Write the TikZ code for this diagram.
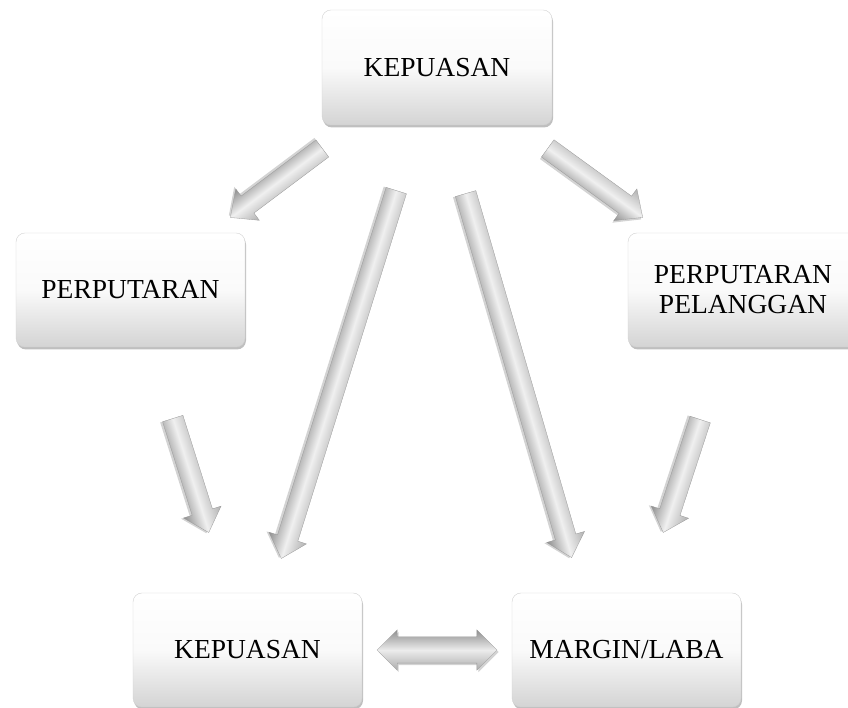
\documentclass[tikz,border=0pt]{standalone}
\usepackage{fontspec}
\setmainfont{Liberation Serif}
\usetikzlibrary{shapes.arrows,shadows,calc}
\newcommand\shinyarrow[2]{%
  \path let \p1=($(#2)-(#1)$), \p2=($(#1)!0.5!(#2)$) in
    \pgfextra{\pgfmathsetmacro\arang{atan2(\y1,\x1)}%
      \pgfmathsetmacro\arlen{veclen(\x1,\y1)}%
      \xdef\arang{\arang}\xdef\arlen{\arlen}\xdef\arx{\x2}\xdef\ary{\y2}};
  \begin{scope}[transform canvas={shift={(\arx,\ary)}, rotate=\arang}]
    \node[metal, minimum height=\arlen pt] at (0,0) {};
  \end{scope}}
\begin{document}
\begin{tikzpicture}[x=1pt,y=1pt,
  box/.style={rectangle, rounded corners=9pt, minimum width=229pt, minimum height=114pt,
    top color=white, bottom color=gray!34, middle color=white!96!gray,
    draw=gray!35, line width=0.4pt,
    drop shadow={opacity=0.5, shadow xshift=1pt, shadow yshift=-2.5pt},
    align=center, font=\fontsize{27.5}{30}\selectfont, inner sep=0pt},
  metal/.style={single arrow, single arrow head extend=9pt, minimum width=0pt,
    inner xsep=0pt, inner ysep=10.5pt, single arrow tip angle=85,
    top color=gray!62, bottom color=gray!88, middle color=gray!12,
    draw=gray!80, line width=0.3pt,
    drop shadow={opacity=0.35, shadow xshift=0pt, shadow yshift=-2.5pt}},
  dmetal/.style={double arrow, double arrow head extend=7pt, minimum width=0pt,
    inner xsep=0pt, inner ysep=13pt, double arrow tip angle=90,
    top color=gray!88, bottom color=gray!65, middle color=gray!15,
    draw=gray!80, line width=0.3pt,
    drop shadow={opacity=0.35, shadow xshift=1.5pt, shadow yshift=-2pt}},
]
\useasboundingbox (0,0) rectangle (848,708);
\clip (0,0) rectangle (848,708);

\node[box, minimum width=230pt, minimum height=115pt] (top) at (437,640.5) {KEPUASAN};
\node[box] (left) at (130.5,418) {PERPUTARAN};
\node[box, minimum width=230pt] (right) at (743,418) {PERPUTARAN\\PELANGGAN};
\node[box] (kep) at (247.5,58) {KEPUASAN};
\node[box] (margin) at (626.5,58) {MARGIN/LABA};

\coordinate (a1s) at (327,563); \coordinate (a1e) at (235,494);
\coordinate (a2s) at (398,523); \coordinate (a2e) at (283,155);
\coordinate (a3s) at (464,520); \coordinate (a3e) at (570,156);
\coordinate (a4s) at (543,563); \coordinate (a4e) at (638,494);
\coordinate (a5s) at (171,295); \coordinate (a5e) at (207,181);
\coordinate (a6s) at (702,294); \coordinate (a6e) at (665,181);

\shinyarrow{a1s}{a1e}
\shinyarrow{a2s}{a2e}
\shinyarrow{a3s}{a3e}
\shinyarrow{a4s}{a4e}
\shinyarrow{a5s}{a5e}
\shinyarrow{a6s}{a6e}

\path (kep.east) -- (margin.west) node[midway, dmetal, minimum height=120pt] (dbl) {};
\end{tikzpicture}
\end{document}
